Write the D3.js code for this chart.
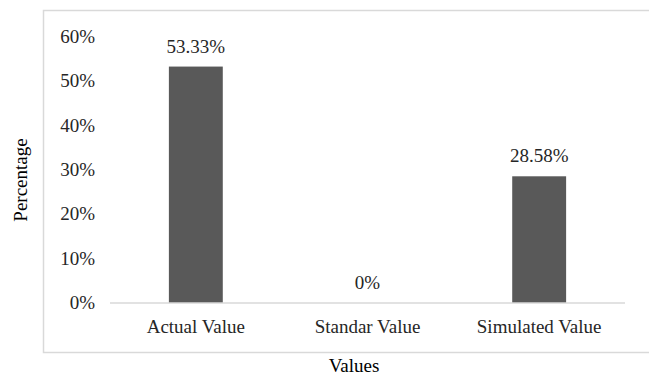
<!DOCTYPE html>
<html>
<head>
<meta charset="utf-8">
<script src="https://cdn.jsdelivr.net/npm/d3@7"></script>
<style>
  body { margin: 0; background: #fff; }
  text { font-family: "Liberation Serif", "Times New Roman", serif; font-size: 19px; fill: #262626; }
</style>
</head>
<body>
<svg width="649" height="375"></svg>
<script>
var categories = ["Actual Value", "Standar Value", "Simulated Value"];
var values = [53.33, 0, 28.58];
var valueLabels = ["53.33%", "0%", "28.58%"];
var yTicks = [0, 10, 20, 30, 40, 50, 60];

var svg = d3.select("svg");

var plot = { left: 110, right: 625, top: 37, bottom: 303 };

// outer chart border
svg.append("rect")
  .attr("x", 43.5).attr("y", 10.5)
  .attr("width", 620).attr("height", 342)
  .attr("fill", "none")
  .attr("stroke", "#d9d9d9")
  .attr("stroke-width", 1.5);

var x = d3.scaleBand()
  .domain(categories)
  .range([plot.left, plot.right])
  .paddingInner(0.686)
  .paddingOuter(0.343);

var y = d3.scaleLinear()
  .domain([0, 60])
  .range([plot.bottom, plot.top]);

// y tick labels
svg.selectAll(".ytick")
  .data(yTicks)
  .enter().append("text")
  .attr("class", "ytick")
  .attr("x", 95)
  .attr("y", function(d){ return y(d); })
  .attr("dy", "0.32em")
  .attr("text-anchor", "end")
  .text(function(d){ return d + "%"; });

// bars
svg.selectAll(".bar")
  .data(values)
  .enter().append("rect")
  .attr("class", "bar")
  .attr("x", function(d, i){ return x(categories[i]); })
  .attr("y", function(d){ return y(d); })
  .attr("width", x.bandwidth())
  .attr("height", function(d){ return plot.bottom - y(d); })
  .attr("fill", "#595959");

// baseline
svg.append("line")
  .attr("x1", plot.left).attr("x2", plot.right)
  .attr("y1", plot.bottom).attr("y2", plot.bottom)
  .attr("stroke", "#d9d9d9")
  .attr("stroke-width", 1.5);

// value labels
svg.selectAll(".vlabel")
  .data(values)
  .enter().append("text")
  .attr("class", "vlabel")
  .attr("x", function(d, i){ return x(categories[i]) + x.bandwidth() / 2; })
  .attr("y", function(d){ return y(d) - 14; })
  .attr("text-anchor", "middle")
  .text(function(d, i){ return valueLabels[i]; });

// category labels
svg.selectAll(".xlabel")
  .data(categories)
  .enter().append("text")
  .attr("class", "xlabel")
  .attr("x", function(d){ return x(d) + x.bandwidth() / 2; })
  .attr("y", 333)
  .attr("text-anchor", "middle")
  .text(function(d){ return d; });

// axis titles
svg.append("text")
  .attr("x", 354).attr("y", 372)
  .attr("text-anchor", "middle")
  .style("fill", "#000")
  .text("Values");

svg.append("text")
  .attr("transform", "translate(27,180) rotate(-90)")
  .attr("text-anchor", "middle")
  .style("fill", "#000")
  .text("Percentage");
</script>
</body>
</html>
